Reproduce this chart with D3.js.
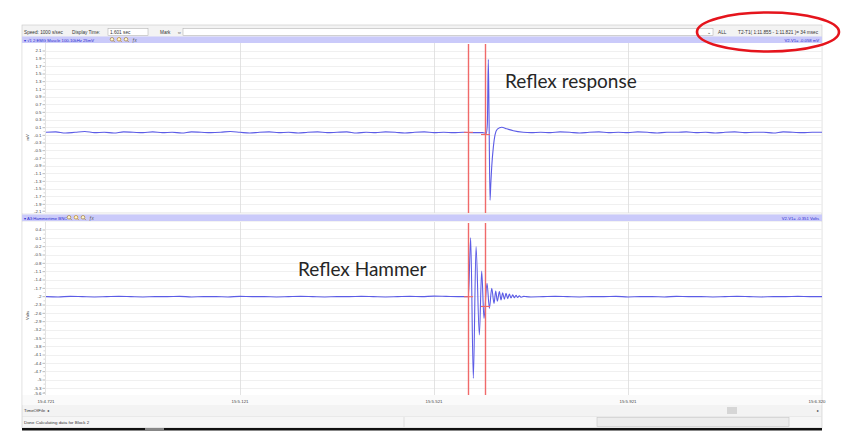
<!DOCTYPE html>
<html><head><meta charset="utf-8">
<script src="https://cdn.jsdelivr.net/npm/d3@7"></script>
<style>body{margin:0;background:#fff}svg{display:block}</style>
</head><body>
<svg id="c" width="846" height="436"></svg>
<script>
// Sample times are ms after 15:4.721 (time of file)
const emgTime = [0,20,40,60,80,100,120,140,160,180,200,220,240,260,280,300,320,340,360,380,400,420,440,460,480,500,520,540,560,580,600,620,640,660,680,700,720,740,760,780,800,820,840,860,880,900,908,910,912,913.5,915.5,917,919,922.4,925.8,930.6,939.6,950,963.6,984,1000,1020,1040,1060,1080,1100,1120,1140,1160,1180,1200,1220,1240,1260,1280,1300,1320,1340,1360,1380,1400,1420,1440,1460,1480,1500,1520,1540,1560,1580,1600];
const emgValue = [-0.02,-0.01,-0.04,-0.02,0.0,-0.03,-0.02,-0.04,-0.01,-0.02,-0.03,-0.01,-0.03,-0.02,-0.04,-0.01,-0.02,-0.03,-0.02,0.0,-0.02,-0.04,-0.02,-0.01,-0.03,-0.02,-0.04,-0.02,-0.01,-0.03,-0.02,-0.01,-0.04,-0.02,-0.03,-0.01,-0.02,-0.04,-0.02,-0.01,-0.03,-0.02,-0.03,-0.02,-0.03,-0.03,-0.05,0.2,1.88,0.4,-1.79,-1.4,-0.92,-0.40,-0.09,0.06,0.11,0.07,0.02,-0.02,-0.03,-0.02,-0.03,-0.01,-0.02,-0.04,-0.02,-0.01,-0.03,-0.02,-0.03,-0.01,-0.02,-0.04,-0.02,-0.02,-0.01,-0.03,-0.02,-0.04,-0.02,-0.01,-0.03,-0.02,-0.02,-0.04,-0.01,-0.02,-0.03,-0.02,-0.02];

const hammerTime = [0,25,50,75,100,125,150,175,200,225,250,275,300,325,350,375,400,425,450,475,500,525,550,575,600,625,650,675,700,725,750,775,800,825,850,866,870.9,875.6,881.1,886.7,893.5,898.3,903.1,909.3,914.2,919.0,923.8,927.2,930.6,934.8,938.2,941.6,945.1,948.5,951.9,955.4,958.8,962.3,965.7,969.1,972.5,976,980,985,990,1000,1025,1050,1075,1100,1125,1150,1175,1200,1225,1250,1275,1300,1325,1350,1375,1400,1425,1450,1475,1500,1525,1550,1575,1600];
const hammerValue = [-2.0,-2.01,-1.99,-2.0,-2.01,-2.0,-1.99,-2.0,-2.01,-2.0,-2.0,-1.99,-2.01,-2.0,-2.0,-2.01,-1.99,-2.0,-2.0,-2.01,-2.0,-1.99,-2.0,-2.01,-2.0,-2.0,-1.99,-2.0,-2.01,-2.0,-1.99,-2.0,-1.98,-1.99,-2.0,-2.0,-2.0,0.12,-4.94,-0.2,-3.38,-1.08,-2.78,-1.52,-2.42,-1.70,-2.24,-1.80,-2.16,-1.82,-2.12,-1.86,-2.09,-1.88,-2.07,-1.91,-2.05,-1.93,-2.04,-1.95,-2.03,-1.97,-2.02,-1.99,-2.0,-2.01,-2.0,-1.99,-2.0,-2.01,-2.0,-2.0,-1.99,-2.01,-2.0,-2.0,-2.01,-1.99,-2.0,-2.0,-2.01,-2.0,-1.99,-2.0,-2.01,-2.0,-2.0,-1.99,-2.0,-2.0];

const timeTicks = [0, 400, 800, 1200, 1600];
const timeTickLabels = ["15:4.721", "15:5.121", "15:5.521", "15:5.921", "15:6.320"];
const emgTicks = [2.1,1.9,1.7,1.5,1.3,1.1,0.9,0.7,0.5,0.3,0.1,-0.1,-0.3,-0.5,-0.7,-0.9,-1.1,-1.3,-1.5,-1.7,-1.9,-2.1];
const hammerTicks = [0.4,0.1,-0.2,-0.5,-0.8,-1.1,-1.4,-1.7,-2,-2.3,-2.6,-2.9,-3.2,-3.5,-3.8,-4.1,-4.4,-4.7,-5,-5.3,-5.6];
const cursorTimes = [872, 906];
const emgCursorValues = [-0.02, -0.078];
const hammerCursorValues = [-2.0, -2.351];

const svg = d3.select("#c");
const ui = "'Liberation Sans', Arial, sans-serif";
const WX0 = 22, WX1 = 822, PX0 = 46;
const P1 = {top: 43, bottom: 213}, P2 = {top: 222, bottom: 395};
const CURSOR = "#f06a6a";

const x = d3.scaleLinear().domain([0, 1600]).range([PX0, WX1]);
const y1 = d3.scaleLinear().domain([-2.126, 2.309]).range([P1.bottom, P1.top]);
const y2 = d3.scaleLinear().domain([-5.54, 0.688]).range([P2.bottom, P2.top]);
const fmt = v => String(+v.toFixed(1));
const snap = v => Math.floor(v) + 0.5;

// window frame
svg.append("rect").attr("x", WX0).attr("y", 25).attr("width", WX1 - WX0).attr("height", 403)
  .attr("fill", "#f3f3f3").attr("stroke", "#c8c8c8").attr("stroke-width", 0.6);

// toolbar
const tb = svg.append("g").attr("font-family", ui).attr("font-size", 4.7).attr("fill", "#333");
tb.append("text").attr("x", 24).attr("y", 33.5).text("Speed: 1000 s/sec");
tb.append("text").attr("x", 72).attr("y", 33.5).text("Display Time:");
tb.append("rect").attr("x", 108).attr("y", 28.5).attr("width", 40).attr("height", 7).attr("fill", "#fff").attr("stroke", "#a8a8a8").attr("stroke-width", 0.5);
tb.append("text").attr("x", 110).attr("y", 33.5).text("1.601 sec");
tb.append("text").attr("x", 160).attr("y", 33.5).text("Mark");
tb.append("text").attr("x", 177).attr("y", 33.5).text("⇔");
tb.append("rect").attr("x", 183).attr("y", 28.5).attr("width", 530).attr("height", 7).attr("fill", "#fff").attr("stroke", "#a8a8a8").attr("stroke-width", 0.5);
tb.append("text").attr("x", 707).attr("y", 33.5).text("⌄");
tb.append("text").attr("x", 718).attr("y", 33.5).text("ALL");
tb.append("text").attr("x", 818).attr("y", 33.5).attr("text-anchor", "end").text("T2-T1( 1:11.855 - 1:11.821 )= 34 msec");

function magnifier(g, cx, cy, col) {
  g.append("circle").attr("cx", cx).attr("cy", cy).attr("r", 1.8).attr("fill", "#fff6d0").attr("stroke", col).attr("stroke-width", 0.7);
  g.append("line").attr("x1", cx + 1.3).attr("y1", cy + 1.3).attr("x2", cx + 2.8).attr("y2", cy + 2.8).attr("stroke", col).attr("stroke-width", 0.8);
}

function header(yTop, title, iconX, rightText) {
  const g = svg.append("g");
  g.append("rect").attr("x", WX0).attr("y", yTop).attr("width", WX1 - WX0).attr("height", 6.5).attr("fill", "#cacafa");
  g.append("text").attr("x", 24).attr("y", yTop + 5).attr("font-family", ui).attr("font-size", 4.2).attr("fill", "#2b2bd0").text(title);
  iconX.slice(0, 3).forEach((ix, i) => magnifier(g, ix, yTop + 2.8, i === 1 ? "#c08a20" : "#a08040"));
  g.append("text").attr("x", iconX[3]).attr("y", yTop + 5.2).attr("font-family", ui).attr("font-style", "italic").attr("font-size", 4.6).attr("fill", "#555").text("ƒx");
  g.append("text").attr("x", 819).attr("y", yTop + 5).attr("text-anchor", "end").attr("font-family", ui).attr("font-size", 4.2).attr("fill", "#2b2bd0").text(rightText);
}
header(36.5, "▾ √1 2:EMG Muscle 100-10kHz 25mV", [112, 119, 126, 132], "V2-V1= -0.058 mV");
header(214.5, "▾ A3:Hammertime BNC", [69, 76, 83, 89], "V2-V1= -0.351 Volts");

function panel(P, y, ticks, unit, tData, vData, cursorVals) {
  const g = svg.append("g");
  g.append("rect").attr("x", WX0 + 0.5).attr("y", P.top).attr("width", WX1 - WX0 - 1).attr("height", P.bottom - P.top).attr("fill", "#fff");
  // horizontal grid
  g.append("g").selectAll("line").data(ticks).join("line")
    .attr("x1", PX0).attr("x2", WX1).attr("y1", d => snap(y(d))).attr("y2", d => snap(y(d)))
    .attr("stroke", "#ececec").attr("stroke-width", 0.8);
  // vertical grid
  g.append("g").selectAll("line").data(timeTicks.slice(1, -1)).join("line")
    .attr("x1", d => snap(x(d))).attr("x2", d => snap(x(d))).attr("y1", P.top).attr("y2", P.bottom)
    .attr("stroke", "#dcdcdc").attr("stroke-width", 0.8);
  g.append("line").attr("x1", PX0 - 0.5).attr("x2", PX0 - 0.5).attr("y1", P.top).attr("y2", P.bottom).attr("stroke", "#d0d0d0").attr("stroke-width", 0.6);

  // y axis
  const ax = g.append("g").attr("transform", `translate(${PX0 - 1},0)`)
    .call(d3.axisLeft(y).tickValues(ticks).tickFormat(fmt).tickSize(2.5).tickPadding(1));
  ax.select(".domain").remove();
  ax.selectAll(".tick line").attr("stroke", "#777").attr("stroke-width", 0.5);
  ax.selectAll(".tick text").attr("font-family", ui).attr("font-size", 4.4).attr("fill", "#444");
  ax.selectAll(".tick").attr("transform", d => `translate(0,${Math.min(Math.max(y(d), P.top + 2.5), P.bottom - 1.8)})`);
  // minor ticks
  const minor = ticks.slice(0, -1).map((d, i) => (d + ticks[i + 1]) / 2);
  g.append("g").selectAll("line").data(minor).join("line")
    .attr("x1", PX0 - 2.5).attr("x2", PX0 - 1).attr("y1", d => y(d)).attr("y2", d => y(d))
    .attr("stroke", "#999").attr("stroke-width", 0.4);
  g.append("text").attr("transform", `translate(28.5,${y(ticks[Math.floor(ticks.length / 2)]) + 2}) rotate(-90)`)
    .attr("text-anchor", "middle").attr("font-family", ui).attr("font-size", 4.2).attr("fill", "#444").text(unit);

  // trace
  const pts = tData.map((t, i) => [t, vData[i]]);
  g.append("path").datum(pts)
    .attr("fill", "none").attr("stroke", "#5c5ce6").attr("stroke-width", 1.1)
    .attr("d", d3.line().x(d => x(d[0])).y(d => y(d[1])).curve(d3.curveMonotoneX));

  // cursors and their crosshair marks
  const cg = g.append("g").attr("class", "cursors");
  cg.selectAll("rect.cur").data(cursorTimes).join("rect").attr("class", "cur")
    .attr("x", d => Math.floor(x(d)) - 0.2).attr("width", 1.4).attr("y", P.top + 1).attr("height", P.bottom - P.top - 1)
    .attr("fill", CURSOR);
  cg.selectAll("rect.mark").data(cursorTimes).join("rect").attr("class", "mark")
    .attr("x", d => Math.floor(x(d)) - 4).attr("width", 9)
    .attr("y", (d, i) => y(cursorVals[i]) - 0.5).attr("height", 1.1)
    .attr("fill", CURSOR);
}
panel(P1, y1, emgTicks, "mV", emgTime, emgValue, emgCursorValues);
panel(P2, y2, hammerTicks, "Volts", hammerTime, hammerValue, hammerCursorValues);

// time axis
svg.append("rect").attr("x", WX0 + 0.5).attr("y", P2.bottom).attr("width", WX1 - WX0 - 1).attr("height", 10).attr("fill", "#fafafa");
const tAxis = svg.append("g").attr("font-family", ui).attr("font-size", 4.4).attr("fill", "#444");
tAxis.selectAll("text").data(timeTicks).join("text")
  .attr("x", d => Math.min(x(d), 817)).attr("y", 402.5).attr("text-anchor", "middle")
  .text((d, i) => timeTickLabels[i]);

// scroll row
svg.append("text").attr("x", 24).attr("y", 412).attr("font-family", ui).attr("font-size", 4.4).attr("fill", "#333").text("TimeOfFile  ◂");
svg.append("text").attr("x", 817).attr("y", 412).attr("font-family", ui).attr("font-size", 4.4).attr("fill", "#333").text("▸");
svg.append("rect").attr("x", 727).attr("y", 407).attr("width", 10).attr("height", 7).attr("fill", "#d6d6d6");

// status bar
svg.append("rect").attr("x", WX0 + 0.5).attr("y", 416.5).attr("width", WX1 - WX0 - 1).attr("height", 11).attr("fill", "#f6f6f6").attr("stroke", "#dedede").attr("stroke-width", 0.5);
svg.append("line").attr("x1", 404).attr("x2", 404).attr("y1", 417).attr("y2", 427).attr("stroke", "#d0d0d0").attr("stroke-width", 0.6);
svg.append("rect").attr("x", 597).attr("y", 417.5).attr("width", 192).attr("height", 9).attr("fill", "#ececec").attr("stroke", "#c6c6c6").attr("stroke-width", 0.6);
svg.append("text").attr("x", 24).attr("y", 423.5).attr("font-family", ui).attr("font-size", 4.4).attr("fill", "#333").text("Done Calculating data for Block 2");
svg.append("rect").attr("x", WX0).attr("y", 428).attr("width", WX1 - WX0).attr("height", 2.5).attr("fill", "#111");
svg.append("rect").attr("x", 145).attr("y", 428).attr("width", 19).attr("height", 2.5).attr("fill", "#888");

// annotations
const ann = svg.append("g").attr("font-family", "Lato, 'Open Sans', sans-serif").attr("font-size", 19).attr("fill", "#262626");
ann.append("text").attr("x", 505).attr("y", 88).text("Reflex response");
ann.append("text").attr("x", 298).attr("y", 276).text("Reflex Hammer");

// highlight ring
svg.append("ellipse").attr("cx", 768).attr("cy", 32).attr("rx", 71).attr("ry", 19.5)
  .attr("fill", "none").attr("stroke", "#e5141c").attr("stroke-width", 2.6);
</script>
</body></html>
